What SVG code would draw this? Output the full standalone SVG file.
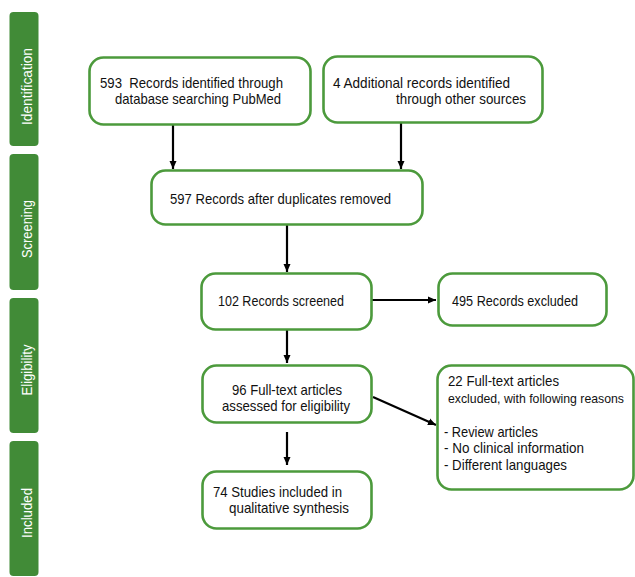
<svg xmlns="http://www.w3.org/2000/svg" width="635" height="577" viewBox="0 0 635 577">
<style>
.bar{fill:#418b37}
.bt{fill:#ffffff;font-family:"Liberation Sans",Arial,sans-serif;font-size:15px;text-anchor:middle}
.box{fill:#ffffff;stroke:#4c9a3c;stroke-width:2.6}
.t{fill:#111111;font-family:"Liberation Sans",Arial,sans-serif;font-size:15px}
.con line{stroke:#000000;stroke-width:2.2;marker-end:url(#ah)}
</style>
<defs>
<marker id="ah" markerUnits="userSpaceOnUse" markerWidth="9" markerHeight="9" refX="8" refY="4.5" orient="auto">
<path d="M0,1 L8,4.5 L0,8 Z" fill="#000000"/>
</marker>
</defs>
<rect width="635" height="577" fill="#ffffff"/>
<g id="stage-identification"><rect class="bar" x="9.5" y="12" width="29" height="134" rx="4"/><text class="bt" transform="translate(32,86.5) rotate(-90)" textLength="77" lengthAdjust="spacingAndGlyphs">Identification</text></g>
<g id="stage-screening"><rect class="bar" x="9.5" y="154" width="29" height="136" rx="4"/><text class="bt" transform="translate(32,229) rotate(-90)" textLength="58" lengthAdjust="spacingAndGlyphs">Screening</text></g>
<g id="stage-eligibility"><rect class="bar" x="9.5" y="298" width="29" height="135" rx="4"/><text class="bt" transform="translate(32,370) rotate(-90)" textLength="51" lengthAdjust="spacingAndGlyphs">Eligibility</text></g>
<g id="stage-included"><rect class="bar" x="9.5" y="441" width="29" height="135" rx="4"/><text class="bt" transform="translate(32,513) rotate(-90)" textLength="50" lengthAdjust="spacingAndGlyphs">Included</text></g>

<g id="connectors" class="con">
<line x1="173" y1="125" x2="173" y2="169"/>
<line x1="401" y1="123" x2="401" y2="169"/>
<line x1="287" y1="225" x2="287" y2="272"/>
<line x1="372" y1="300" x2="436" y2="300"/>
<line x1="287" y1="330" x2="287" y2="363"/>
<line x1="287" y1="432" x2="287" y2="465"/>
<line x1="373" y1="397" x2="436" y2="425"/>
</g>

<g id="n-pubmed"><rect class="box" x="89.5" y="57.5" width="221" height="67" rx="14"/>
<text class="t" x="100" y="88" textLength="183" lengthAdjust="spacingAndGlyphs">593&#160; Records identified through</text>
<text class="t" x="115" y="103.5" textLength="166" lengthAdjust="spacingAndGlyphs">database searching PubMed</text></g>

<g id="n-other"><rect class="box" x="323.5" y="56.5" width="219" height="66" rx="14"/>
<text class="t" x="333" y="88" textLength="177" lengthAdjust="spacingAndGlyphs">4 Additional records identified</text>
<text class="t" x="396" y="103.5" textLength="130" lengthAdjust="spacingAndGlyphs">through other sources</text></g>

<g id="n-dedup"><rect class="box" x="151.5" y="170.5" width="271" height="54" rx="14"/>
<text class="t" x="170" y="204" textLength="221" lengthAdjust="spacingAndGlyphs">597 Records after duplicates removed</text></g>

<g id="n-screened"><rect class="box" x="201.5" y="273.5" width="170" height="56" rx="14"/>
<text class="t" x="218" y="306" textLength="126" lengthAdjust="spacingAndGlyphs">102 Records screened</text></g>

<g id="n-excluded"><rect class="box" x="438.5" y="273.5" width="168" height="52" rx="14"/>
<text class="t" x="452" y="306" textLength="126" lengthAdjust="spacingAndGlyphs">495 Records excluded</text></g>

<g id="n-fulltext"><rect class="box" x="202.5" y="365.5" width="169" height="57" rx="14"/>
<text class="t" x="232" y="395" textLength="110" lengthAdjust="spacingAndGlyphs">96 Full-text articles</text>
<text class="t" x="222" y="411" textLength="128" lengthAdjust="spacingAndGlyphs">assessed for eligibility</text></g>

<g id="n-ftexcluded"><rect class="box" x="437.5" y="365.5" width="196" height="124" rx="14"/>
<text class="t" x="448" y="386" textLength="111" lengthAdjust="spacingAndGlyphs">22 Full-text articles</text>
<text class="t" x="448" y="403" style="font-size:13px" textLength="176" lengthAdjust="spacingAndGlyphs">excluded, with following reasons</text>
<text class="t" x="444" y="437" textLength="94" lengthAdjust="spacingAndGlyphs">- Review articles</text>
<text class="t" x="444" y="453" textLength="140" lengthAdjust="spacingAndGlyphs">- No clinical information</text>
<text class="t" x="444" y="469.5" textLength="123" lengthAdjust="spacingAndGlyphs">- Different languages</text></g>

<g id="n-included"><rect class="box" x="202.5" y="471.5" width="169" height="57" rx="14"/>
<text class="t" x="213" y="497" textLength="129" lengthAdjust="spacingAndGlyphs">74 Studies included in</text>
<text class="t" x="229" y="512.5" textLength="120" lengthAdjust="spacingAndGlyphs">qualitative synthesis</text></g>
</svg>
